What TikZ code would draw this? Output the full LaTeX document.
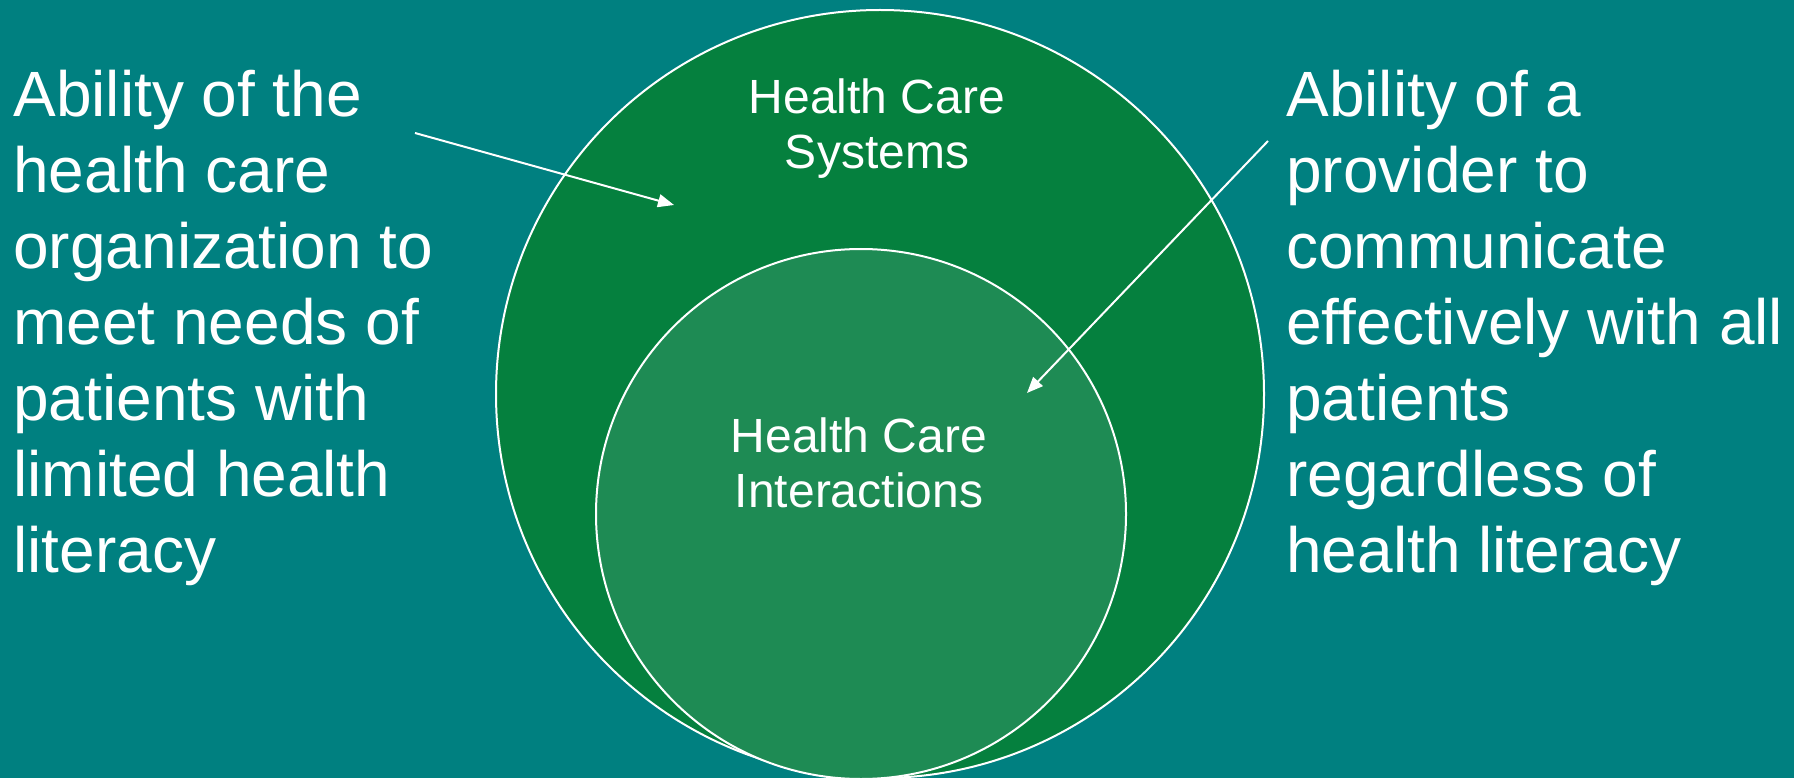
\documentclass[tikz,border=0pt]{standalone}
\usepackage{fontspec}
\setmainfont{Liberation Sans}
\usetikzlibrary{arrows.meta}
\definecolor{bgteal}{RGB}{0,128,128}
\definecolor{sysgreen}{RGB}{5,128,62}
\definecolor{intgreen}{RGB}{30,139,84}

\begin{document}
\begin{tikzpicture}[x=0.5pt, y=0.5pt,
        ring/.style={draw=white, line width=1pt},
        sidetext/.style={text=white, align=left, anchor=base west, inner sep=0pt, font=\fontsize{32pt}{38pt}\selectfont},
        ringtext/.style={text=white, align=center, anchor=base, inner sep=0pt, font=\fontsize{24pt}{27.5pt}\selectfont},
        pointer/.style={draw=white, line width=1pt, -{Triangle[length=8pt, width=6.5pt]}}]
    \fill[bgteal] (0,0) rectangle (1794,778);
    \useasboundingbox (0,0) rectangle (1794,778);
    \draw[ring, fill=sysgreen] (880,384) circle[radius=384];
    \draw[ring, fill=intgreen] (861,264) circle[radius=265];
    \node[ringtext] (systems) at (877,609) {Health Care\\Systems};
    \node[ringtext] (interactions) at (859,271) {Health Care\\Interactions};
    \node[sidetext] (orgtext) at (13,206) {Ability of the\\health care\\organization to\\meet needs of\\patients with\\limited health\\literacy};
    \node[sidetext] (provtext) at (1286,206) {Ability of a\\provider to\\communicate\\effectively with all\\patients\\regardless of\\health literacy};
    \coordinate (orgstart) at (415,645);
    \coordinate (orgtip) at (674,573);
    \coordinate (provstart) at (1268,637);
    \coordinate (provtip) at (1027,385);
    \draw[pointer] (orgstart) -- (orgtip);
    \draw[pointer] (provstart) -- (provtip);
\end{tikzpicture}
\end{document}
